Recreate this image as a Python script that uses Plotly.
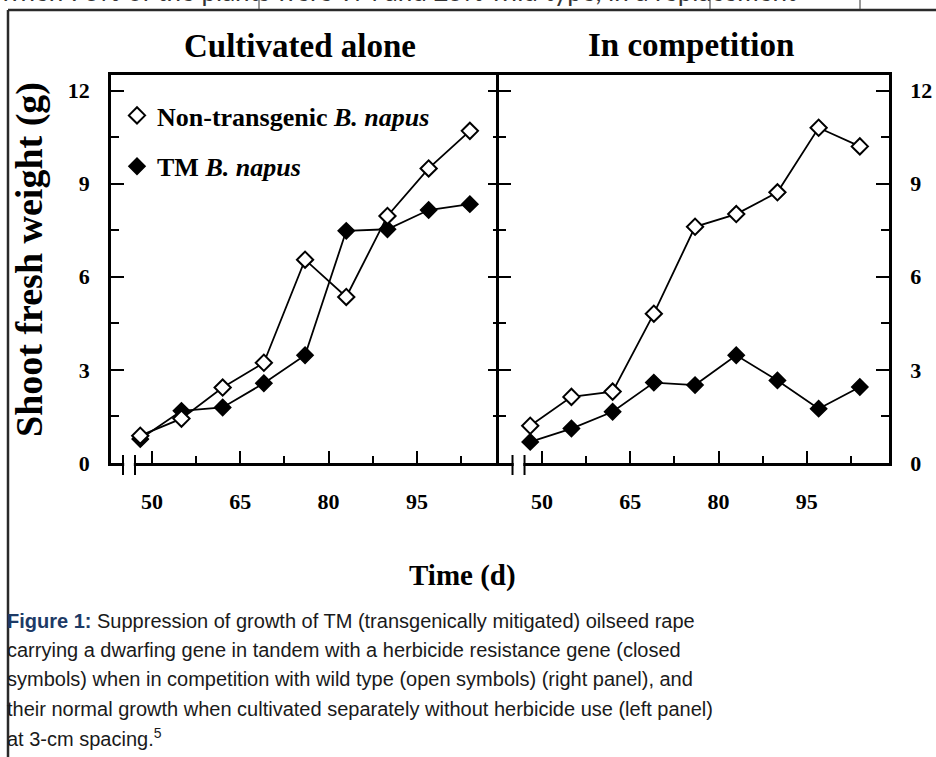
import plotly.graph_objects as go

# ---------------- data ----------------
days = [48, 55, 62, 69, 76, 83, 90, 97, 104]
alone_nontransgenic = [0.88, 1.43, 2.43, 3.23, 6.55, 5.35, 7.96, 9.49, 10.70]
alone_tm = [0.77, 1.68, 1.79, 2.57, 3.47, 7.48, 7.53, 8.15, 8.34]
comp_nontransgenic = [1.20, 2.13, 2.30, 4.81, 7.61, 8.02, 8.72, 10.80, 10.20]
comp_tm = [0.68, 1.11, 1.65, 2.59, 2.51, 3.47, 2.66, 1.75, 2.45]

panel_titles = ["Cultivated alone", "In competition"]
series_names = ["Non-transgenic <i>B. napus</i>", "TM <i>B. napus</i>"]
x_tick_vals = [50, 65, 80, 95]
x_minor_vals = [57.5, 72.5, 87.5, 102.5]
y_tick_vals = [0, 3, 6, 9, 12]
y_minor_vals = [1.5, 4.5, 7.5, 10.5]
x_title = "Time (d)"
y_title = "Shoot fresh weight (g)"
caption_lines = [
    "<span style='color:#1d3a66'><b>Figure 1:</b></span> Suppression of growth of TM (transgenically mitigated) oilseed rape",
    "carrying a dwarfing gene in tandem with a herbicide resistance gene (closed",
    "symbols) when in competition with wild type (open symbols) (right panel), and",
    "their normal growth when cultivated separately without herbicide use (left panel)",
    "at 3-cm spacing.<sup>5</sup>",
]
top_text = "when 75% of the plants were TM and 25% wild type, in a replacement"

# ---------------- layout helpers ----------------
W, H = 936, 757
def px(x):
    return x / W
def py(y):
    return 1 - y / H

SERIF = "Liberation Serif, Times New Roman, serif"
SANS = "Liberation Sans, Arial, sans-serif"

open_marker = dict(symbol="diamond", size=12.5, color="white", line=dict(color="black", width=2))
fill_marker = dict(symbol="diamond", size=12.5, color="black", line=dict(color="black", width=1.5))
line_style = dict(color="black", width=1.8)

fig = go.Figure()

panels = [("x", "y", alone_nontransgenic, alone_tm), ("x2", "y2", comp_nontransgenic, comp_tm)]
for xa, ya, nt, tm in panels:
    fig.add_trace(go.Scatter(x=days, y=tm, mode="lines+markers", xaxis=xa, yaxis=ya,
                             line=line_style, marker=fill_marker, showlegend=False))
    fig.add_trace(go.Scatter(x=days, y=nt, mode="lines+markers", xaxis=xa, yaxis=ya,
                             line=line_style, marker=open_marker, showlegend=False))

# legend-only entries (symbol without line)
fig.add_trace(go.Scatter(x=[None], y=[None], mode="markers", marker=open_marker,
                         name=series_names[0], legendgroup="a", xaxis="x", yaxis="y"))
fig.add_trace(go.Scatter(x=[None], y=[None], mode="markers", marker=fill_marker,
                         name=series_names[1], legendgroup="b", xaxis="x", yaxis="y"))

tickfont = dict(family=SERIF, size=22, color="black", weight="bold")

common_x = dict(showline=True, linewidth=2.5, linecolor="black", mirror=True,
                ticks="inside", ticklen=12, tickwidth=2, tickcolor="black",
                tickmode="array", tickvals=x_tick_vals, automargin=False,
                minor=dict(tickmode="array", tickvals=x_minor_vals, ticks="inside",
                           ticklen=7, tickwidth=2, tickcolor="black", showgrid=False),
                showgrid=False, zeroline=False, tickfont=tickfont, ticklabelstandoff=17)
common_y = dict(showline=True, linewidth=2.5, linecolor="black", mirror="ticks",
                ticks="inside", ticklen=13, tickwidth=2, tickcolor="black",
                tickmode="array", tickvals=y_tick_vals, range=[0, 12.5], automargin=False,
                minor=dict(tickmode="array", tickvals=y_minor_vals, ticks="inside",
                           ticklen=8, tickwidth=2, tickcolor="black", showgrid=False),
                showgrid=False, zeroline=False, tickfont=tickfont,
                domain=[py(463), py(75)])

# right panel starts 2.5 px to the left so that the two divider lines coincide
x2_left = 498.5
fig.update_layout(
    width=W, height=H, autosize=False,
    margin=dict(l=0, r=0, t=0, b=0, pad=0, autoexpand=False),
    paper_bgcolor="white", plot_bgcolor="white",
    xaxis=dict(domain=[px(111), px(501)], range=[43.03, 109.29], anchor="y", **common_x),
    xaxis2=dict(domain=[px(x2_left), px(889)], range=[50 - (542 - x2_left) / 5.886, 50 + (889 - 542) / 5.886],
                anchor="y2", **common_x),
    yaxis=dict(anchor="x", side="left", ticklabelstandoff=14, **common_y),
    yaxis2=dict(anchor="x2", side="right", ticklabelstandoff=14, **common_y),
    showlegend=True,
    legend=dict(x=px(117), y=py(92), xanchor="left", yanchor="top",
                bgcolor="rgba(0,0,0,0)", traceorder="grouped", tracegroupgap=14,
                font=dict(family=SERIF, size=26, color="black", weight="bold"),
                itemwidth=30),
)

annotations = []
annotations.append(dict(text=panel_titles[0], x=px(300), y=py(46), xref="paper", yref="paper",
                         xanchor="center", yanchor="middle",
                         showarrow=False, font=dict(family=SERIF, size=33, color="black", weight="bold")))
annotations.append(dict(text=panel_titles[1], x=px(691), y=py(45), xref="paper", yref="paper",
                         xanchor="center", yanchor="middle",
                         showarrow=False, font=dict(family=SERIF, size=33, color="black", weight="bold")))
annotations.append(dict(text=y_title, x=px(29), y=py(260), xref="paper", yref="paper", textangle=-90,
                         xanchor="center", yanchor="middle",
                         showarrow=False, font=dict(family=SERIF, size=38, color="black", weight="bold")))
annotations.append(dict(text=x_title, x=px(462), y=py(575), xref="paper", yref="paper",
                         xanchor="center", yanchor="middle",
                         showarrow=False, font=dict(family=SERIF, size=29, color="black", weight="bold")))
for i, line in enumerate(caption_lines):
    annotations.append(dict(text=line, x=px(5), y=py(621 + 29.2 * i), xref="paper", yref="paper",
                             xanchor="left", yanchor="middle", showarrow=False, align="left",
                             font=dict(family=SANS, size=20, color="#1a1a1a")))
annotations.append(dict(text=top_text, x=px(-2), y=py(9), xref="paper", yref="paper",
                         xanchor="left", yanchor="bottom", showarrow=False,
                         font=dict(family="Lato, Open Sans, sans-serif", size=26, color="#333333")))
fig.update_layout(annotations=annotations)

shapes = []
# outer box of the figure page
shapes.append(dict(type="line", xref="paper", yref="paper", x0=px(8), x1=px(8), y0=0, y1=py(10),
                   line=dict(color="#2a2a2a", width=2.5)))
shapes.append(dict(type="line", xref="paper", yref="paper", x0=px(8), x1=1, y0=py(10), y1=py(10),
                   line=dict(color="#2a2a2a", width=2.5)))
for vx in [259, 710, 860]:
    shapes.append(dict(type="line", xref="paper", yref="paper", x0=px(vx), x1=px(vx), y0=py(0), y1=py(9),
                       line=dict(color="#555555", width=1.2)))
# axis break marks
for xr, a, b in [("x", 45.07, 47.11), ("x2", 44.99, 47.03)]:
    shapes.append(dict(type="rect", xref=xr, yref="paper", x0=a + 0.2, x1=b - 0.2,
                       y0=py(467), y1=py(459), fillcolor="white", line=dict(width=0), layer="above"))
    for v in (a, b):
        shapes.append(dict(type="line", xref=xr, yref="paper", x0=v, x1=v, y0=py(475), y1=py(455),
                           line=dict(color="black", width=2), layer="above"))
fig.update_layout(shapes=shapes)

post = """
document.documentElement.style.margin='0';
document.body.style.margin='0';
document.body.style.padding='0';
document.documentElement.style.overflow='hidden';
document.body.style.overflow='hidden';
"""
fig.write_html("out.html", config={"displayModeBar": False}, post_script=post)
